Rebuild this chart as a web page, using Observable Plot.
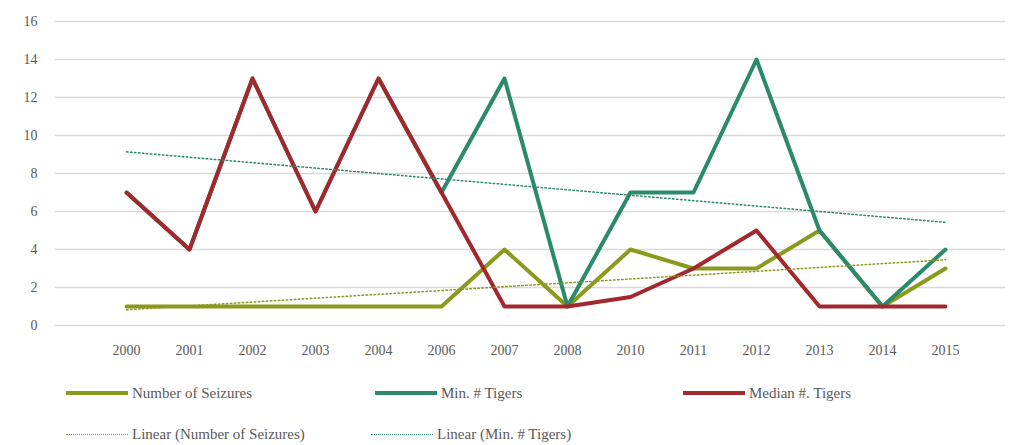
<!DOCTYPE html>
<html>
<head>
<meta charset="utf-8">
<script src="https://cdn.jsdelivr.net/npm/d3@7"></script>
<script src="https://cdn.jsdelivr.net/npm/@observablehq/plot@0.6"></script>
<style>
  body { margin: 0; background: #fff; font-family: "Liberation Serif", "DejaVu Serif", serif; }
  #wrap { position: relative; width: 1010px; height: 445px; }
  #legend { position: absolute; left: 0; top: 0; width: 1010px; height: 445px; pointer-events: none; }
  .item { position: absolute; display: flex; align-items: center; font-size: 15px; color: #595959; white-space: nowrap; }
  .sw { width: 62px; height: 0; margin-right: 4px; }
</style>
</head>
<body>
<div id="wrap">
  <div id="chart"></div>
  <div id="legend"></div>
</div>
<script>
const years = ["2000","2001","2002","2003","2004","2006","2007","2008","2010","2011","2012","2013","2014","2015"];
const seizures = [1,1,1,1,1,1,4,1,4,3,3,5,1,3];
const minTigers = [7,4,13,6,13,7,13,1,7,7,14,5,1,4];
const medianTigers = [7,4,13,6,13,7,1,1,1.5,3,5,1,1,1];
const trendYears = ["2000","2015"];
const seizuresTrend = [0.83, 3.46];
const minTigersTrend = [9.14, 5.43];
const yTicks = [0,2,4,6,8,10,12,14,16];

const colors = { seizures: "#8a9a1c", minT: "#2b8a6c", median: "#a2282e" };

const toRows = (xs, ys) => xs.map((x, i) => ({x, y: ys[i]}));

const chart = Plot.plot({
  width: 1010,
  height: 370,
  marginTop: 21,
  marginBottom: 45,
  marginLeft: 55,
  marginRight: 5,
  style: { fontFamily: "'Liberation Serif', 'DejaVu Serif', serif", fontSize: "14px", color: "#595959", background: "#fff" },
  x: { type: "point", domain: years, range: [88, 983], label: null },
  y: { domain: [0, 16], range: [325, 21], label: null },
  marks: [
    Plot.ruleY(yTicks, { stroke: "#d9d9d9", strokeWidth: 1.5 }),
    Plot.axisY({ ticks: yTicks, tickSize: 0, tickPadding: 18, fontSize: 14, fill: "#595959", label: null }),
    Plot.axisX({ tickSize: 0, tickPadding: 20, fontSize: 14, fill: "#595959", label: null }),
    Plot.line(toRows(years, seizures), { x: "x", y: "y", stroke: colors.seizures, strokeWidth: 4 }),
    Plot.line(toRows(years, minTigers), { x: "x", y: "y", stroke: colors.minT, strokeWidth: 4 }),
    Plot.line(toRows(years, medianTigers), { x: "x", y: "y", stroke: colors.median, strokeWidth: 4 }),
    Plot.line(toRows(trendYears, seizuresTrend), { x: "x", y: "y", stroke: colors.seizures, strokeWidth: 1.5, strokeDasharray: "1.5,2.5" }),
    Plot.line(toRows(trendYears, minTigersTrend), { x: "x", y: "y", stroke: colors.minT, strokeWidth: 1.5, strokeDasharray: "1.5,2.5" })
  ]
});
chart.style.display = "block";
document.getElementById("chart").appendChild(chart);

const legendItems = [
  { label: "Number of Seizures", color: colors.seizures, dotted: false, left: 66, top: 393 },
  { label: "Min. # Tigers", color: colors.minT, dotted: false, left: 375, top: 393 },
  { label: "Median #. Tigers", color: colors.median, dotted: false, left: 683, top: 393 },
  { label: "Linear (Number of Seizures)", color: colors.seizures, dotted: true, left: 66, top: 434 },
  { label: "Linear (Min. # Tigers)", color: colors.minT, dotted: true, left: 371, top: 434 }
];
const legend = document.getElementById("legend");
for (const it of legendItems) {
  const d = document.createElement("div");
  d.className = "item";
  d.style.left = it.left + "px";
  d.style.top = (it.top - 10) + "px";
  d.style.height = "20px";
  const sw = document.createElement("span");
  sw.className = "sw";
  sw.style.borderTop = it.dotted ? `1.5px dotted ${it.color}` : `4px solid ${it.color}`;
  const t = document.createElement("span");
  t.textContent = it.label;
  d.appendChild(sw);
  d.appendChild(t);
  legend.appendChild(d);
}
</script>
</body>
</html>
